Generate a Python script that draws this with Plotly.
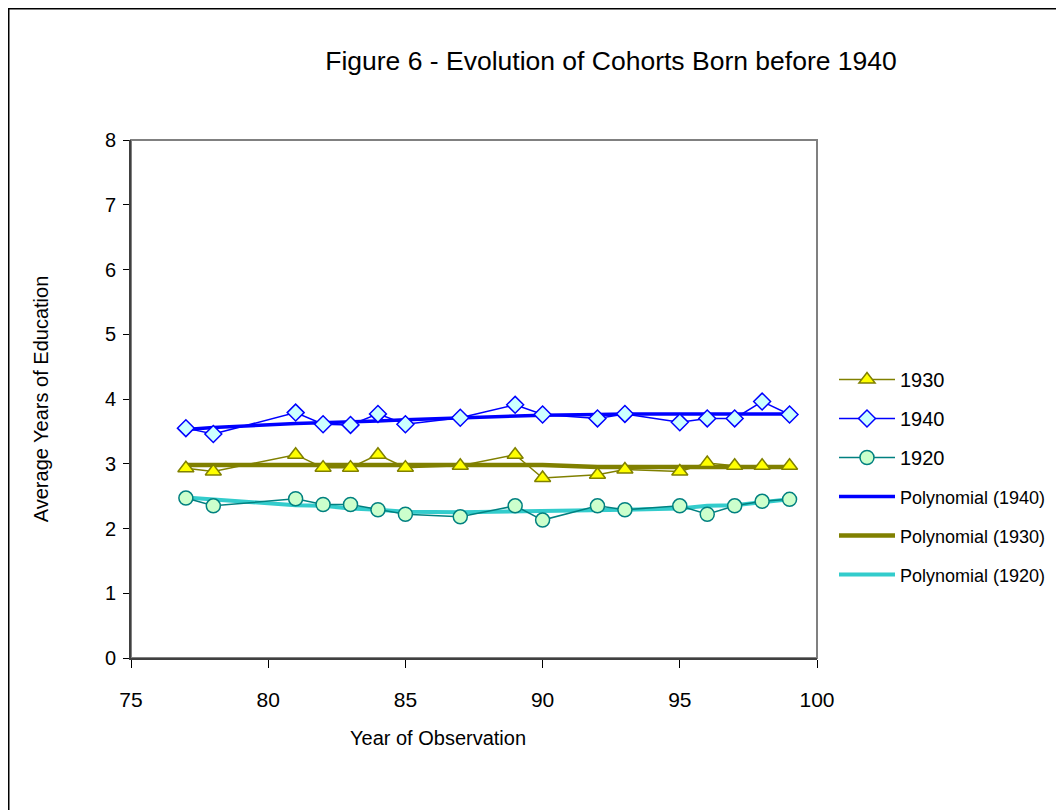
import plotly.graph_objects as go

# ---- data ----
years = [77, 78, 81, 82, 83, 84, 85, 87, 89, 90, 92, 93, 95, 96, 97, 98, 99]

c1930 = [2.93, 2.88, 3.14, 2.94, 2.94, 3.14, 2.94, 2.97, 3.14, 2.78, 2.83, 2.91, 2.88, 3.01, 2.97, 2.97, 2.97]
c1940 = [3.55, 3.46, 3.79, 3.61, 3.60, 3.77, 3.61, 3.71, 3.91, 3.76, 3.70, 3.77, 3.64, 3.70, 3.70, 3.96, 3.76]
c1920 = [2.47, 2.35, 2.46, 2.37, 2.37, 2.29, 2.22, 2.18, 2.35, 2.13, 2.35, 2.29, 2.35, 2.22, 2.35, 2.42, 2.45]

poly1940 = [3.53, 3.56, 3.62, 3.63, 3.65, 3.66, 3.68, 3.71, 3.74, 3.75, 3.76, 3.77, 3.77, 3.77, 3.77, 3.77, 3.77]
poly1930 = [2.98, 2.98, 2.98, 2.98, 2.98, 2.98, 2.98, 2.98, 2.98, 2.98, 2.95, 2.95, 2.95, 2.95, 2.95, 2.95, 2.95]
poly1920 = [2.48, 2.45, 2.36, 2.35, 2.31, 2.29, 2.26, 2.25, 2.26, 2.26, 2.27, 2.29, 2.31, 2.35, 2.36, 2.40, 2.45]

x_ticks = [75, 80, 85, 90, 95, 100]
y_ticks = [0, 1, 2, 3, 4, 5, 6, 7, 8]

FONT = "Liberation Sans, Arial, sans-serif"

fig = go.Figure()

def small(t):
    return '<span style="font-size:18px">' + t + '</span>'

# trendlines (drawn first, below the data)
fig.add_trace(go.Scatter(x=years, y=poly1940, mode="lines", name=small("Polynomial (1940)"),
                         line=dict(color="#0000FF", width=3.5), legendrank=4, legendgroup="p40"))
fig.add_trace(go.Scatter(x=years, y=poly1930, mode="lines", name=small("Polynomial (1930)"),
                         line=dict(color="#808000", width=4.5), legendrank=5, legendgroup="p30"))
fig.add_trace(go.Scatter(x=years, y=poly1920, mode="lines", name=small("Polynomial (1920)"),
                         line=dict(color="#33CCCC", width=4), legendrank=6, legendgroup="p20"))

# data series
fig.add_trace(go.Scatter(x=years, y=c1930, mode="lines+markers", name="1930",
                         line=dict(color="#808000", width=1.5),
                         marker=dict(symbol="triangle-up", size=14, color="#FFFF00",
                                     line=dict(color="#808000", width=1.5)),
                         legendrank=1, legendgroup="d30"))
fig.add_trace(go.Scatter(x=years, y=c1940, mode="lines+markers", name="1940",
                         line=dict(color="#0000FF", width=1.5),
                         marker=dict(symbol="diamond", size=13, color="#CCFFFF",
                                     line=dict(color="#0000FF", width=1.5)),
                         legendrank=2, legendgroup="d40"))
fig.add_trace(go.Scatter(x=years, y=c1920, mode="lines+markers", name="1920",
                         line=dict(color="#008080", width=1.5),
                         marker=dict(symbol="circle", size=14, color="#CCFFCC",
                                     line=dict(color="#008080", width=1.5)),
                         legendrank=3, legendgroup="d20"))

# page body has an 8px margin: figure occupies page pixels 8..1064 x 8..810
OFF = 8
W, H = 1056, 802
L, R, T, B = 123, 247, 132, 152
pw, ph = W - L - R, H - T - B

def px_x(p):          # page pixel -> paper x
    return (p - OFF - L) / pw

def px_y(p):          # page pixel -> paper y
    return (OFF + H - B - p) / ph

fig.update_layout(
    width=W, height=H,
    margin=dict(l=L, r=R, t=T, b=B, pad=0),
    paper_bgcolor="white", plot_bgcolor="white",
    font=dict(family=FONT, size=16, color="black"),
    title=dict(text="Figure 6 - Evolution of Cohorts Born before 1940",
               xref="container", yref="container",
               x=(611 - OFF) / W, xanchor="center", y=1 - (61 - OFF) / H, yanchor="middle",
               font=dict(size=26.5, family=FONT)),
    showlegend=True,
    legend=dict(x=px_x(834), xanchor="left", y=px_y(360), yanchor="top",
                bgcolor="rgba(0,0,0,0)", borderwidth=0,
                tracegroupgap=10, font=dict(size=20, family=FONT),
                itemwidth=56),
    xaxis=dict(range=[75, 100], tickvals=x_ticks, ticktext=[str(v) for v in x_ticks],
               showgrid=False, zeroline=False, showline=True, linecolor="#404040", linewidth=2,
               ticks="outside", ticklen=8, tickcolor="black", tickwidth=1,
               ticklabelstandoff=14,
               tickfont=dict(size=21)),
    yaxis=dict(range=[0, 8], tickvals=y_ticks, ticktext=[str(v) for v in y_ticks],
               showgrid=False, zeroline=False, showline=True, linecolor="#404040", linewidth=2,
               ticks="outside", ticklen=6, tickcolor="black", tickwidth=1,
               ticklabelstandoff=3,
               tickfont=dict(size=20), title=dict(text="Average Years of Education", font=dict(size=20), standoff=51)),
    annotations=[
        dict(text="Year of Observation", xref="paper", yref="paper",
             x=px_x(438), y=px_y(738), xanchor="center", yanchor="middle",
             showarrow=False, font=dict(size=20, family=FONT)),
    ],
    shapes=[
        # gray plot border (top/right)
        dict(type="rect", xref="paper", yref="paper", x0=0, x1=1, y0=0, y1=1,
             line=dict(color="#808080", width=2), layer="below"),
        # outer chart frame
        dict(type="rect", xref="paper", yref="paper",
             x0=px_x(8.5), x1=px_x(1090), y0=px_y(840), y1=px_y(8.5),
             line=dict(color="black", width=2), layer="above"),
    ],
)

fig.write_html("out.html")
